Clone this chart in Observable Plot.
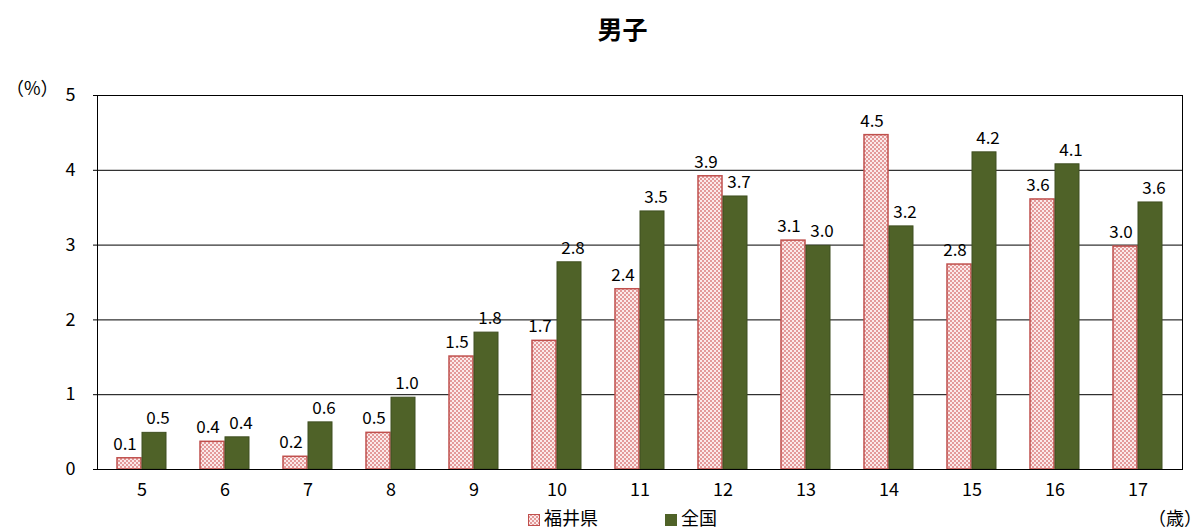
<!DOCTYPE html>
<html><head><meta charset="utf-8">
<script src="https://cdn.jsdelivr.net/npm/d3@7"></script>
<script src="https://cdn.jsdelivr.net/npm/@observablehq/plot@0.6"></script>
<style>
body{margin:0;font-family:"Noto Sans CJK JP",sans-serif;background:#fff}
#wrap{position:relative;width:1200px;height:528px}
.t{position:absolute;font-size:18px;color:#000}
</style></head>
<body><div id="wrap">
<div class="t" style="left:0;width:1245px;top:10px;text-align:center;font-size:25px;font-weight:bold">男子</div>
<div class="t" style="left:6px;top:74px">（%）</div>
<div class="t" style="left:1148px;top:504px">（歳）</div>
<div class="t" style="left:528px;top:504px"><svg width="12" height="12" style="vertical-align:-1px"><rect x="0.5" y="0.5" width="11" height="11" fill="url(#checker)" stroke="#c0504d"/></svg> 福井県</div>
<div class="t" style="left:665px;top:504px"><svg width="12" height="12" style="vertical-align:-1px"><rect width="12" height="12" fill="#4f6228"/></svg> 全国</div>
<div id="chart"></div>
</div>
<script>
const ages = ["5","6","7","8","9","10","11","12","13","14","15","16","17"]
const fukui = [0.15,0.37,0.17,0.49,1.51,1.72,2.41,3.92,3.06,4.47,2.74,3.61,2.98]
const zenkoku = [0.49,0.43,0.63,0.96,1.83,2.77,3.45,3.65,2.99,3.25,4.24,4.08,3.57]
const fukuiLabels = ["0.1","0.4","0.2","0.5","1.5","1.7","2.4","3.9","3.1","4.5","2.8","3.6","3.0"]
const zenkokuLabels = ["0.5","0.4","0.6","1.0","1.8","2.8","3.5","3.7","3.0","3.2","4.2","4.1","3.6"]

const fd = ages.map((a, i) => ({age: a, v: fukui[i], label: fukuiLabels[i]}))
const zd = ages.map((a, i) => ({age: a, v: zenkoku[i], label: zenkokuLabels[i]}))

let chart = Plot.plot({
  width: 1200, height: 528,
  marginTop: 95, marginBottom: 59, marginLeft: 97, marginRight: 18,
  style: {fontFamily: "Noto Sans CJK JP, sans-serif", fontSize: "18px", color: "#000"},
  x: {domain: ages, padding: 0, label: null, tickSize: 0, tickPadding: 14},
  y: {domain: [0, 5], ticks: 5, label: null, tickFormat: d3.format("d"), tickSize: 4, tickPadding: 18},
  marks: [
    Plot.ruleY([1, 2, 3, 4], {stroke: "#000", strokeWidth: 1, strokeOpacity: 1}),
    Plot.barY(fd, {x: "age", y: "v", insetLeft: 17, insetRight: 42, fill: "url(#checker)", stroke: "#c0504d", strokeWidth: 1.5}),
    Plot.barY(zd, {x: "age", y: "v", insetLeft: 42, insetRight: 17, fill: "#4f6228", stroke: "#3f4f20"}),
    Plot.text(fd, {x: "age", y: "v", text: "label", dx: -17, dy: -14, fontSize: 17}),
    Plot.text(zd, {x: "age", y: "v", text: "label", dx: 16, dy: -14, fontSize: 17}),
    Plot.frame({stroke: "#000"})
  ]
})
d3.select("#chart").append(() => chart)
d3.select(chart).insert("defs", ":first-child").html(
  `<pattern id="checker" width="4" height="4" patternUnits="userSpaceOnUse">
     <rect width="4" height="4" fill="#e39a9a"/>
     <rect width="2" height="2" fill="#fbeaea"/><rect x="2" y="2" width="2" height="2" fill="#fbeaea"/>
   </pattern>`)
</script>
</body></html>
